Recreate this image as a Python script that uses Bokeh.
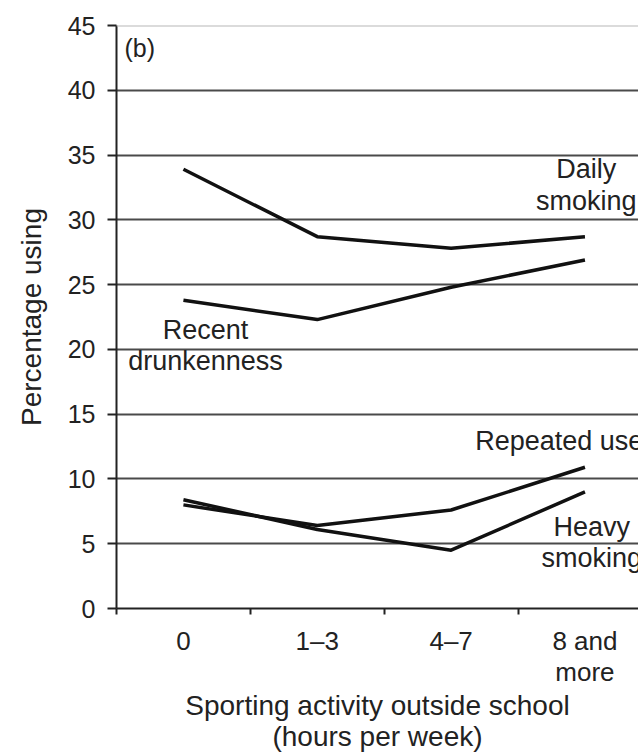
from bokeh.plotting import figure
from bokeh.models import FixedTicker, Span
from bokeh.core.properties import value
from bokeh.embed import file_html
from bokeh.resources import INLINE

# ---- data ----
categories = ["0", "1\u20133", "4\u20137", "8 and\nmore"]
daily_smoking = [33.9, 28.7, 27.8, 28.7]
recent_drunkenness = [23.8, 22.3, 24.8, 26.9]
repeated_use = [8.0, 6.4, 7.6, 10.9]
heavy_smoking = [8.4, 6.1, 4.5, 9.0]
y_ticks = [0, 5, 10, 15, 20, 25, 30, 35, 40, 45]

FONT = "Liberation Sans"
TXT = "#222222"

xs = list(range(len(categories)))

p = figure(width=638, height=755, x_range=(-0.5, 3.4), y_range=(0, 45),
           output_backend="svg", toolbar_location=None,
           min_border_left=116, min_border_right=0, min_border_top=25,
           min_border_bottom=146)
p.outline_line_color = None
p.background_fill_color = "white"
p.border_fill_color = "white"

# x axis: labels at category centres, ticks at boundaries
p.xaxis.ticker = FixedTicker(ticks=xs, minor_ticks=[i - 0.5 for i in range(len(categories) + 1)])
p.xaxis.major_label_overrides = {i: c for i, c in enumerate(categories)}
p.xaxis.major_tick_line_color = None
p.xaxis.major_tick_out = 0
p.xaxis.major_tick_in = 0
p.xaxis.minor_tick_line_color = "#222222"
p.xaxis.minor_tick_line_width = 2
p.xaxis.minor_tick_out = 6
p.xaxis.minor_tick_in = 0
p.xaxis.axis_line_color = "#222222"
p.xaxis.axis_line_width = 2
p.xaxis.major_label_standoff = 11
p.xaxis.major_label_text_font = FONT
p.xaxis.major_label_text_font_size = "26px"
p.xaxis.major_label_text_color = TXT
p.xaxis.major_label_text_line_height = 1.05
p.xaxis.axis_label = "Sporting activity outside school\n(hours per week)"
p.xaxis.axis_label_text_font = FONT
p.xaxis.axis_label_text_font_size = "28px"
p.xaxis.axis_label_text_font_style = "normal"
p.xaxis.axis_label_text_color = TXT
p.xaxis.axis_label_text_line_height = 1.0
p.xaxis.axis_label_standoff = 0

# y axis
p.yaxis.ticker = FixedTicker(ticks=y_ticks)
p.yaxis.major_tick_out = 9
p.yaxis.major_tick_in = 0
p.yaxis.major_tick_line_color = "#222222"
p.yaxis.major_tick_line_width = 2
p.yaxis.minor_tick_line_color = None
p.yaxis.axis_line_color = "#222222"
p.yaxis.axis_line_width = 2
p.yaxis.major_label_standoff = 12
p.yaxis.major_label_text_font = FONT
p.yaxis.major_label_text_font_size = "25px"
p.yaxis.major_label_text_color = TXT
p.yaxis.axis_label = "Percentage using"
p.yaxis.axis_label_text_font = FONT
p.yaxis.axis_label_text_font_size = "28px"
p.yaxis.axis_label_text_font_style = "normal"
p.yaxis.axis_label_text_color = TXT
p.yaxis.axis_label_standoff = 18

# grid
p.xgrid.grid_line_color = None
p.ygrid.ticker = FixedTicker(ticks=y_ticks[1:-1])
p.ygrid.grid_line_color = "#4a4a4a"
p.ygrid.grid_line_width = 2
p.add_layout(Span(location=y_ticks[-1], dimension="width", line_color="#b8b8b8", line_width=2))

# lines
for series in (daily_smoking, recent_drunkenness, repeated_use, heavy_smoking):
    p.line(xs, series, line_color="#111111", line_width=3.5, line_join="round")

# annotations
common = dict(text_font=value(FONT), text_font_size="27px", text_color=TXT, text_line_height=1.05)
p.text(x=[3.01, 0.165, 3.05], y=[32.7, 20.3, 5.1],
       text=["Daily\nsmoking", "Recent\ndrunkenness", "Heavy\nsmoking"],
       text_align="center", text_baseline="middle", **common)
p.text(x=[2.18], y=[12.9], text=["Repeated use"], text_align="left", text_baseline="middle", **common)
p.text(x=[-0.44], y=[43.3], text=["(b)"], text_align="left", text_baseline="middle",
       text_font=value(FONT), text_font_size="25px", text_color=TXT)

open("out.html", "w").write(file_html(p, INLINE))
